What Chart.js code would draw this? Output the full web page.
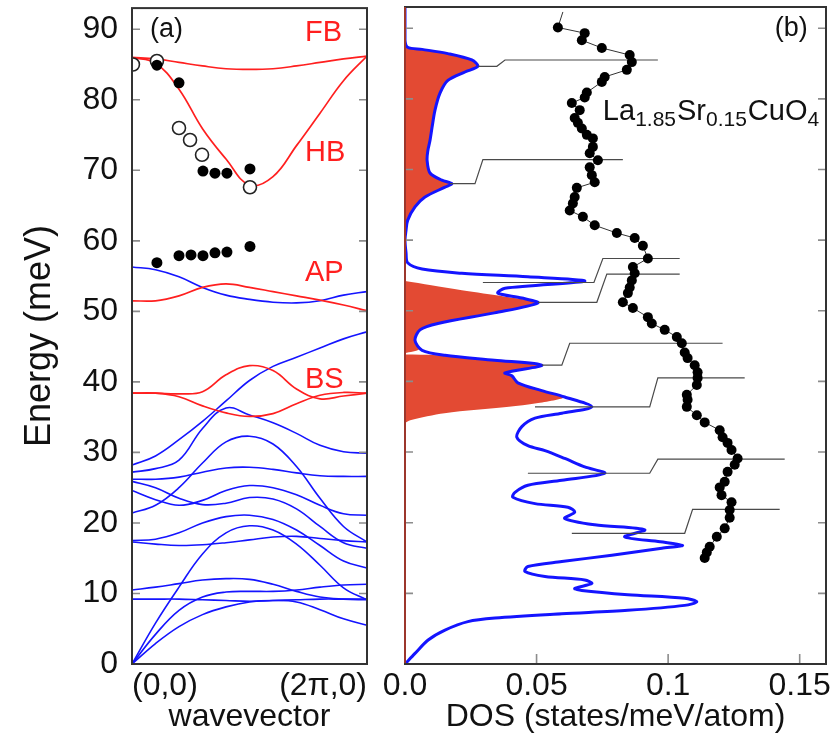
<!DOCTYPE html>
<html>
<head>
<meta charset="utf-8">
<script src="https://cdn.jsdelivr.net/npm/chart.js@4.4.1/dist/chart.umd.min.js"></script>
<style>
  body { margin: 0; background: #fff; }
  #wrap { position: relative; width: 836px; height: 752px; }
  .panel { position: absolute; top: 0; height: 752px; }
  #panelA { left: 0; width: 380px; }
  #panelB { left: 380px; width: 456px; }
</style>
</head>
<body>
<div id="wrap">
  <div class="panel" id="panelA"><canvas id="dispersionChart" width="380" height="752"></canvas></div>
  <div class="panel" id="panelB"><canvas id="dosChart" width="456" height="752"></canvas></div>
</div>
<script>
// Phonon dispersion (a) and density of states (b)
const FONT = '"Liberation Sans", Arial, Helvetica, sans-serif';
Chart.defaults.font.family = FONT;
Chart.defaults.color = '#111';

const energyTicks = [0, 10, 20, 30, 40, 50, 60, 70, 80, 90];
const kTicks = [0, 1];
const kTickLabels = ['(0,0)', '(2\u03c0,0)'];
const dosTicks = [0, 0.05, 0.1, 0.15];
const dosTickLabels = ['0.0', '0.05', '0.1', '0.15'];

// wavevector grid along (0,0) -> (2pi,0)
const kGrid = [0, 0.1, 0.2, 0.3, 0.4, 0.5, 0.6, 0.7, 0.8, 0.9, 1.0];

const blueBands = [
    [56.3, 55.9, 54.9, 53.4, 52.3, 51.7, 51.3, 51.2, 51.5, 52.3, 52.8],
    [28.2, 29.5, 31.8, 34.4, 37.3, 40.2, 42.2, 43.5, 44.8, 46.1, 47.1],
    [27.2, 27.7, 28.9, 33.4, 36.3, 35.3, 34.2, 32.7, 31.0, 30.1, 29.9],
    [26.2, 26.2, 26.5, 27.2, 27.8, 27.9, 27.6, 27.1, 26.7, 26.6, 26.6],
    [21.4, 22.5, 25.0, 28.5, 31.5, 32.3, 31.2, 28.0, 23.5, 19.5, 17.3],
    [24.6, 23.3, 22.5, 23.2, 24.6, 25.3, 25.0, 24.0, 22.5, 21.3, 21.1],
    [25.9, 25.0, 23.5, 22.6, 22.8, 23.6, 23.4, 22.0, 19.5, 17.2, 16.4],
    [17.5, 17.7, 18.6, 20.0, 20.9, 21.1, 20.5, 19.0, 16.8, 14.6, 13.6],
    [17.3, 17.0, 16.8, 16.9, 17.2, 17.6, 18.0, 18.1, 17.8, 17.5, 17.3],
    [0.0, 5.8, 10.9, 15.6, 18.6, 19.6, 19.0, 17.0, 14.0, 10.8, 9.1],
    [10.5, 10.9, 11.4, 11.9, 12.1, 12.0, 11.3, 10.3, 9.5, 9.2, 9.1],
    [9.2, 9.2, 9.2, 9.1, 9.0, 8.9, 9.0, 9.1, 9.2, 9.2, 9.2],
    [0.0, 4.2, 7.6, 9.5, 10.2, 10.3, 10.3, 10.5, 10.9, 11.2, 11.3],
    [0.0, 2.9, 5.3, 7.0, 8.1, 8.8, 9.0, 8.8, 7.7, 6.4, 5.5]
];

// bond-stretching, apical, half- and full-breathing branches
const redBands = [
    [86.0, 85.8, 85.3, 84.8, 84.4, 84.3, 84.4, 84.8, 85.3, 85.8, 86.2],
    [86.0, 85.2, 81.5, 75.9, 71.6, 67.9, 69.1, 73.5, 78.1, 82.7, 86.2],
    [51.5, 51.5, 52.2, 53.4, 53.9, 53.4, 52.8, 52.2, 51.6, 50.9, 50.1],
    [38.4, 38.4, 38.3, 38.6, 41.0, 42.3, 41.6, 39.0, 37.6, 38.0, 38.4],
    [38.4, 38.4, 37.9, 36.6, 35.6, 35.1, 35.5, 36.9, 38.1, 38.5, 38.4]
];

const openK = [0.004, 0.106, 0.2, 0.247, 0.298, 0.502];
const openE = [85.0, 85.5, 76.0, 74.3, 72.2, 67.6];
const filledK = [0.106, 0.2, 0.302, 0.353, 0.404, 0.502, 0.106, 0.2, 0.251, 0.302, 0.353, 0.404, 0.502];
const filledE = [84.9, 82.4, 69.9, 69.6, 69.6, 70.2, 56.9, 57.9, 58.0, 57.9, 58.3, 58.4, 59.2];

// total DOS
const dosE = [0, 1.5, 3.4, 4.8, 6.0, 6.5, 7.1, 7.6, 8.3, 8.8, 9.3, 9.8, 10.4, 10.7, 11.4, 11.9,
    12.4, 13.1, 13.8, 14.5, 15.4, 16.4, 16.8, 17.3, 18.0, 19.0, 19.7, 20.6, 21.5, 22.2, 22.7,
    23.6, 24.3, 25.3, 26.0, 27.0, 27.9, 29.1, 30.2, 30.9, 32.1, 33.6, 34.8, 35.5, 36.4, 37.8,
    38.7, 39.8, 40.8, 41.2, 42.3, 43.0, 43.7, 44.4, 45.8, 47.3, 48.2, 49.7, 51.1, 51.8, 52.5,
    53.2, 54.2, 54.8, 55.3, 55.9, 56.8, 58.2, 60.0, 61.4, 62.8, 64.7, 66.1, 67.5, 68.0, 68.5,
    69.5, 71.3, 72.7, 74.1, 76.0, 78.4, 80.8, 82.6, 83.8, 84.6, 85.5, 86.4, 87.0, 87.3, 88.3, 93];
const dosTotal = [0, 0.0038, 0.0088, 0.0152, 0.0239, 0.0342, 0.0596, 0.0847, 0.1063, 0.1109,
    0.1063, 0.0847, 0.0672, 0.0645, 0.0710, 0.0683, 0.0532, 0.0456, 0.0467, 0.0596, 0.0786,
    0.0976, 0.1055, 0.0970, 0.0835, 0.0911, 0.0721, 0.0607, 0.0645, 0.0619, 0.0494, 0.0410,
    0.0418, 0.0467, 0.0596, 0.0759, 0.0683, 0.0607, 0.0532, 0.0467, 0.0425, 0.0444, 0.0494,
    0.0596, 0.0710, 0.0607, 0.0520, 0.0429, 0.0406, 0.0380, 0.0520, 0.0340, 0.0152, 0.0065,
    0.0038, 0.0057, 0.0125, 0.0340, 0.0505, 0.0444, 0.0353, 0.0380, 0.0683, 0.0467, 0.0216,
    0.0065, 0.0010, 0.0004, 0, 0.0004, 0.0010, 0.0038, 0.0076, 0.0152, 0.0178, 0.0140, 0.0095,
    0.0084, 0.0087, 0.0095, 0.0103, 0.0114, 0.0133, 0.0163, 0.0228, 0.0277, 0.0254, 0.0163,
    0.0065, 0.0010, 0, 0];

// partial DOS of the oxygen bond-stretching modes, one lobe per band group
const pdosLowE = [34.1, 34.5, 35.5, 36.4, 36.9, 37.8, 38.7, 39.8, 40.8, 41.2, 42.3, 43.0, 43.7, 43.8];
const pdosLow = [0, 0.002, 0.015, 0.0395, 0.050, 0.0607, 0.0520, 0.0429, 0.0406, 0.0380, 0.0520, 0.0340, 0.012, 0];
const pdosMidE = [44.0, 44.6, 45.8, 47.3, 48.2, 49.7, 50.5, 51.2, 52.0, 52.9, 53.6, 54.2];
const pdosMid = [0, 0.0055, 0.0038, 0.0055, 0.0122, 0.0338, 0.0450, 0.0505, 0.0380, 0.0216, 0.0100, 0];
const pdosHighE = [60.5, 61.4, 62.8, 64.7, 66.1, 67.5, 68.0, 68.5, 69.5, 71.3, 72.7, 74.1, 76.0,
    78.4, 80.8, 82.6, 83.8, 84.6, 85.5, 86.4, 87.0, 87.3, 88.0];
const pdosHigh = [0, 0.0004, 0.0010, 0.0038, 0.0076, 0.0152, 0.0178, 0.0140, 0.0095, 0.0084,
    0.0087, 0.0095, 0.0103, 0.0114, 0.0133, 0.0163, 0.0228, 0.0277, 0.0254, 0.0163, 0.0065, 0.0010, 0];

// measured points (black dots)
const expE = [92.3, 90.1, 89.3, 88.3, 87.2, 86.2, 85.2, 84.1, 83.1, 82.4, 80.9, 80.2, 79.4, 78.4,
    77.3, 76.6, 75.8, 74.9, 74.4, 73.2, 72.3, 71.3, 70.3, 69.2, 68.2, 67.4, 66.1, 65.2, 64.2,
    63.3, 62.1, 61.0, 60.3, 59.2, 57.4, 56.2, 55.3, 54.3, 53.3, 52.5, 51.2, 50.4, 49.1, 48.2,
    47.3, 46.3, 45.4, 44.1, 43.3, 42.3, 41.3, 40.5, 39.5, 38.1, 37.4, 36.4, 35.2, 34.2, 33.1,
    32.1, 31.3, 30.3, 29.1, 28.2, 27.2, 25.8, 25.0, 23.9, 22.9, 21.8, 20.7, 19.2, 18.0, 16.6,
    15.8, 15.0];
const expX = [0.0600, 0.0581, 0.0683, 0.0672, 0.0748, 0.0854, 0.0862, 0.0843, 0.0759, 0.0748,
    0.0691, 0.0683, 0.0634, 0.0664, 0.0645, 0.0657, 0.0672, 0.0691, 0.0714, 0.0714, 0.0702,
    0.0733, 0.0702, 0.0710, 0.0721, 0.0653, 0.0645, 0.0638, 0.0626, 0.0676, 0.0721, 0.0805,
    0.0873, 0.0904, 0.0923, 0.0866, 0.0873, 0.0862, 0.0854, 0.0847, 0.0828, 0.0866, 0.0923,
    0.0938, 0.0987, 0.1033, 0.1052, 0.1063, 0.1074, 0.1101, 0.1112, 0.1112, 0.1109, 0.1071,
    0.1074, 0.1071, 0.1109, 0.1139, 0.1196, 0.1207, 0.1226, 0.1241, 0.1264, 0.1253, 0.1226,
    0.1215, 0.1196, 0.1203, 0.1241, 0.1234, 0.1234, 0.1215, 0.1185, 0.1158, 0.1147, 0.1139];

// step connectors between DOS peaks and the measured energies
const stepLow = [84.6, 68.0, 54.0, 51.2, 42.3, 36.4, 27.0, 18.5];
const stepHigh = [85.5, 71.4, 57.4, 55.2, 45.4, 40.5, 29.0, 21.9];
const stepX = [
    [0.0277, 0.0349, 0.0380, 0.0961],
    [0.0171, 0.0266, 0.0296, 0.0828],
    [0.0296, 0.0718, 0.0752, 0.1044],
    [0.0505, 0.0729, 0.0767, 0.1044],
    [0.0520, 0.0596, 0.0626, 0.1207],
    [0.0494, 0.0930, 0.0961, 0.1291],
    [0.0467, 0.0930, 0.0961, 0.1443],
    [0.0634, 0.1063, 0.1093, 0.1424]
];

const BLUE = '#1414ff';
const RED = '#ff1f1f';

// frame with inward ticks on every side that carries them
const frameTicks = {
    id: 'frameTicks',
    afterDatasetsDraw(chart, args, opts) {
        const { ctx, chartArea: { left, right, top, bottom }, scales } = chart;
        ctx.save();
        ctx.strokeStyle = '#8c8c8c';
        ctx.lineWidth = 1.6;
        ctx.beginPath();
        energyTicks.forEach(v => {
            const y = scales.y.getPixelForValue(v);
            ctx.moveTo(left, y); ctx.lineTo(left + 8, y);
            ctx.moveTo(right, y); ctx.lineTo(right - 8, y);
        });
        if (opts.bottomTicks) {
            dosTicks.forEach(v => {
                const x = scales.x.getPixelForValue(v);
                ctx.moveTo(x, bottom); ctx.lineTo(x, bottom - 10);
            });
        }
        ctx.stroke();
        ctx.strokeStyle = '#333';
        ctx.lineWidth = 2;
        ctx.strokeRect(left, top, right - left, bottom - top);
        if (opts.leftColor) {
            ctx.strokeStyle = opts.leftColor;
            ctx.lineWidth = 1.5;
            ctx.beginPath();
            ctx.moveTo(left, top); ctx.lineTo(left, bottom - 1);
            ctx.stroke();
        }
        ctx.restore();
    }
};

// text placed in data coordinates
const panelText = {
    id: 'panelText',
    afterDraw(chart, args, opts) {
        const { ctx, scales: { x, y } } = chart;
        ctx.save();
        ctx.textAlign = 'left';
        ctx.textBaseline = 'middle';
        (opts.items || []).forEach(item => {
            ctx.font = item.size + 'px ' + FONT;
            ctx.fillStyle = item.color || '#111';
            ctx.fillText(item.text, x.getPixelForValue(item.at[0]), y.getPixelForValue(item.at[1]));
        });
        if (opts.formula) {
            const f = opts.formula;
            let px = x.getPixelForValue(f.at[0]);
            const py = y.getPixelForValue(f.at[1]);
            ctx.textBaseline = 'alphabetic';
            ctx.fillStyle = '#111';
            f.parts.forEach(([txt, sub]) => {
                ctx.font = (sub ? 21 : 29) + 'px ' + FONT;
                ctx.fillText(txt, px, py + (sub ? 6 : 0));
                px += ctx.measureText(txt).width + (sub ? 1 : 0);
            });
        }
        ctx.restore();
    }
};

function curve(xs, ys, color, width, tension) {
    return {
        data: xs.map((v, i) => ({ x: v, y: ys[i] })),
        showLine: true,
        borderColor: color,
        borderWidth: width,
        pointRadius: 0,
        tension: tension,
        fill: false
    };
}

// keep the plot frame fixed: no extra room for the end tick labels
function noTickPadding(s) {
    s.paddingTop = 0;
    s.paddingBottom = 0;
    s.paddingLeft = 0;
    s.paddingRight = 0;
}

const bigFont = { size: 32, family: FONT };

// (a) dispersion
const dispersionCtx = document.getElementById('dispersionChart');
new Chart(dispersionCtx, {
    type: 'scatter',
    data: {
        datasets: [
            {
                data: filledK.map((k, i) => ({ x: k, y: filledE[i] })),
                pointRadius: 5.5,
                pointBackgroundColor: '#000',
                pointBorderWidth: 0,
                order: 0
            },
            {
                data: openK.map((k, i) => ({ x: k, y: openE[i] })),
                pointRadius: 6.5,
                pointBackgroundColor: '#fff',
                pointBorderColor: '#222',
                pointBorderWidth: 1.6,
                order: 0
            },
            ...redBands.map(b => Object.assign(curve(kGrid, b, RED, 1.7, 0.4), { order: 1 })),
            ...blueBands.map(b => Object.assign(curve(kGrid, b, BLUE, 1.6, 0.4), { order: 2 }))
        ]
    },
    options: {
        responsive: false,
        animation: false,
        layout: { padding: { top: 7, right: 13, left: 0, bottom: 0 } },
        plugins: {
            legend: { display: false },
            tooltip: { enabled: false },
            frameTicks: {},
            panelText: {
                items: [
                    { text: '(a)', at: [0.077, 90.0], size: 27 },
                    { text: 'FB', at: [0.736, 89.4], size: 29, color: RED },
                    { text: 'HB', at: [0.736, 72.4], size: 29, color: RED },
                    { text: 'AP', at: [0.736, 55.5], size: 29, color: RED },
                    { text: 'BS', at: [0.736, 40.3], size: 29, color: RED }
                ]
            }
        },
        scales: {
            x: {
                type: 'linear', min: 0, max: 1,
                grid: { display: false, drawTicks: false },
                border: { display: false },
                afterBuildTicks: s => { s.ticks = kTicks.map(v => ({ value: v })); },
                ticks: { align: 'inner', font: bigFont, color: '#111', padding: 3,
                    callback: (v, i) => kTickLabels[i] },
                title: { display: true, text: 'wavevector', font: bigFont, color: '#111',
                    padding: { top: 0, bottom: 16 } },
                afterFit: s => { s.height = 88; noTickPadding(s); }
            },
            y: {
                type: 'linear', min: 0, max: 93,
                grid: { display: false, drawTicks: false },
                border: { display: false },
                afterBuildTicks: s => { s.ticks = energyTicks.map(v => ({ value: v })); },
                ticks: { font: bigFont, color: '#111', padding: 14 },
                title: { display: true, text: 'Energy (meV)', font: { size: 36, family: FONT },
                    color: '#111', padding: { top: 18, bottom: 0 } },
                afterFit: s => { s.width = 132; noTickPadding(s); }
            }
        }
    },
    plugins: [frameTicks, panelText]
});

// (b) density of states
const stepSets = stepLow.map((lo, i) => Object.assign(
    curve(stepX[i], [lo, lo, stepHigh[i], stepHigh[i]], '#4a4a4a', 1.2, 0), { order: 1 }));

const redLobe = (xs, es) => Object.assign(curve(xs, es, 'rgba(0,0,0,0)', 0, 0.3), {
    fill: 'shape', backgroundColor: '#e34a33', order: 3
});

const dosCtx = document.getElementById('dosChart');
new Chart(dosCtx, {
    type: 'scatter',
    data: {
        datasets: [
            Object.assign(curve(expX, expE, '#333', 1, 0), {
                pointRadius: ctx => ctx.dataIndex === 0 ? 0 : 5,
                pointBackgroundColor: '#000',
                pointBorderWidth: 0,
                order: 0
            }),
            ...stepSets,
            Object.assign(curve(dosTotal, dosE, BLUE, 3, 0.3), { order: 2 }),
            redLobe(pdosLow, pdosLowE),
            redLobe(pdosMid, pdosMidE),
            redLobe(pdosHigh, pdosHighE)
        ]
    },
    options: {
        responsive: false,
        animation: false,
        layout: { padding: { top: 7, right: 10, left: 0, bottom: 0 } },
        plugins: {
            legend: { display: false },
            tooltip: { enabled: false },
            frameTicks: { bottomTicks: true, leftColor: '#c0392b' },
            panelText: {
                items: [{ text: '(b)', at: [0.1405, 90.0], size: 27 }],
                formula: {
                    at: [0.0752, 77.0],
                    parts: [['La', false], ['1.85', true], ['Sr', false], ['0.15', true], ['CuO', false], ['4', true]]
                }
            }
        },
        scales: {
            x: {
                type: 'linear', min: 0, max: 0.16,
                grid: { display: false, drawTicks: false },
                border: { display: false },
                afterBuildTicks: s => { s.ticks = dosTicks.map(v => ({ value: v })); },
                ticks: { font: bigFont, color: '#111', padding: 3,
                    callback: (v, i) => dosTickLabels[i] },
                title: { display: true, text: 'DOS (states/meV/atom)', font: bigFont, color: '#111',
                    padding: { top: 0, bottom: 16 } },
                afterFit: s => { s.height = 88; noTickPadding(s); }
            },
            y: {
                type: 'linear', min: 0, max: 93,
                grid: { display: false, drawTicks: false },
                border: { display: false },
                afterBuildTicks: s => { s.ticks = energyTicks.map(v => ({ value: v })); },
                ticks: { display: false },
                afterFit: s => { s.width = 25; noTickPadding(s); }
            }
        }
    },
    plugins: [frameTicks, panelText]
});
</script>
</body>
</html>
